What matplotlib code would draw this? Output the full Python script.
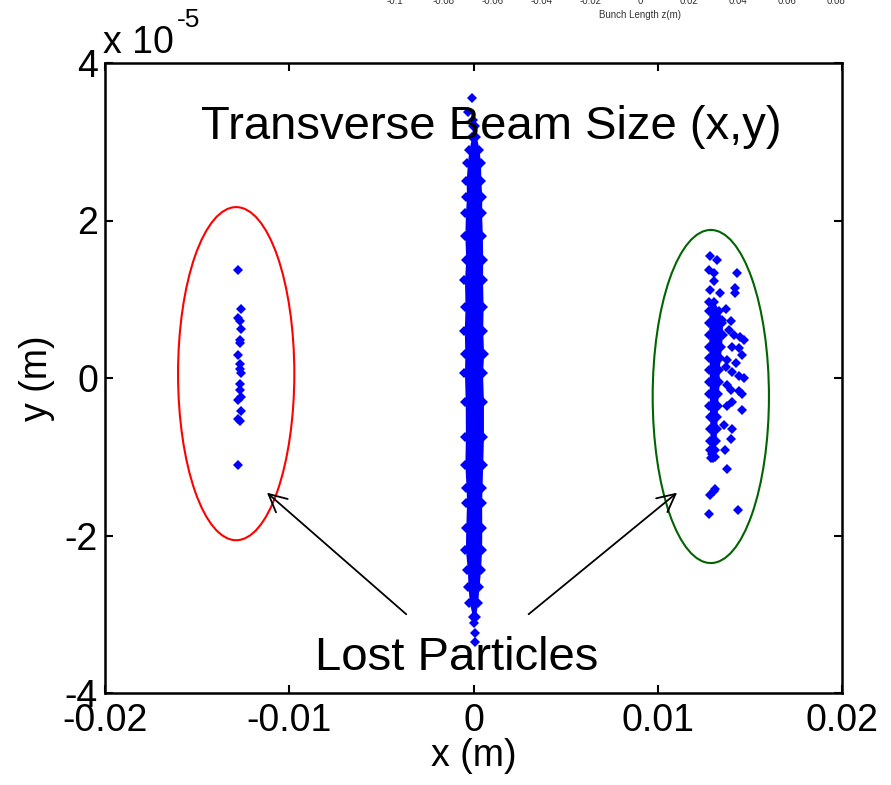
import numpy as np
import matplotlib.pyplot as plt
from matplotlib.patches import Ellipse

plt.rcParams['font.family'] = ['Liberation Sans', 'DejaVu Sans']

# central beam core: profile of the dense column (y in 1e-5 m, x edges in m)
central_y = [3.20, 3.06, 2.90, 2.73, 2.50, 2.30, 2.09, 1.80, 1.50, 1.24, 0.90, 0.60, 0.30, 0.06,
             -0.30, -0.75, -1.10, -1.40, -1.59, -1.90, -2.18, -2.44, -2.65, -2.86, -3.03]
central_left = [-0.00005, -0.00010, -0.00025, -0.00033, -0.00040, -0.00038, -0.00044, -0.00047,
                -0.00042, -0.00049, -0.00046, -0.00050, -0.00047, -0.00049, -0.00045, -0.00044,
                -0.00047, -0.00040, -0.00038, -0.00042, -0.00044, -0.00033, -0.00030, -0.00022, -0.00005]
central_right = [0.00010, 0.00016, 0.00030, 0.00038, 0.00040, 0.00045, 0.00044, 0.00048, 0.00050,
                 0.00049, 0.00052, 0.00050, 0.00055, 0.00049, 0.00054, 0.00054, 0.00050, 0.00046,
                 0.00044, 0.00045, 0.00044, 0.00038, 0.00030, 0.00022, 0.00011]
central_out_x = [-0.00010, -0.00030, -0.00005, 0.00005, 0.00008, 0.00008]
central_out_y = [3.55, 3.38, 3.28, -3.11, -3.24, -3.35]

# lost particles, left side
left_x = [-0.0128, -0.0126, -0.0128, -0.0127, -0.0126, -0.0127, -0.0127, -0.0128, -0.0127, -0.0127,
          -0.0126, -0.0127, -0.0127, -0.0126, -0.0128, -0.0126, -0.0128, -0.0127, -0.0128]
left_y = [1.37, 0.87, 0.76, 0.72, 0.62, 0.48, 0.44, 0.29, 0.18, 0.12,
          0.06, -0.08, -0.15, -0.24, -0.28, -0.42, -0.52, -0.55, -1.10]

# lost particles, right side: dense core profile + scattered points
right_core_y = [0.97, 0.85, 0.70, 0.55, 0.40, 0.25, 0.10, -0.05, -0.20, -0.35, -0.50, -0.65, -0.80, -0.92, -1.02]
right_core_left = [0.01280, 0.01278, 0.01276, 0.01278, 0.01276, 0.01278, 0.01280, 0.01278,
                   0.01280, 0.01280, 0.01282, 0.01282, 0.01284, 0.01284, 0.01290]
right_core_right = [0.01305, 0.01335, 0.01350, 0.01352, 0.01345, 0.01340, 0.01332, 0.01335,
                    0.01328, 0.01325, 0.01322, 0.01320, 0.01316, 0.01310, 0.01302]
right_x = [0.01286, 0.01322, 0.01277, 0.01304, 0.01428, 0.01304, 0.01286, 0.01340, 0.01419, 0.01419,
           0.01368, 0.01350, 0.01395, 0.01386, 0.01413, 0.01449, 0.01468, 0.01404, 0.01440, 0.01455,
           0.01377, 0.01422, 0.01368, 0.01404, 0.01440, 0.01468, 0.01377, 0.01395, 0.01440, 0.01458,
           0.01404, 0.01377, 0.01458, 0.01359, 0.01404, 0.01395, 0.01364, 0.01295, 0.01313, 0.01377,
           0.01286, 0.01304, 0.01313, 0.01277, 0.01437]
right_y = [1.55, 1.50, 1.37, 1.33, 1.33, 1.23, 1.12, 1.08, 1.14, 1.08,
           0.87, 0.74, 0.72, 0.61, 0.55, 0.52, 0.48, 0.40, 0.38, 0.29,
           0.23, 0.19, 0.14, 0.08, 0.02, 0.00, -0.09, -0.15, -0.17, -0.20,
           -0.30, -0.36, -0.40, -0.60, -0.65, -0.77, -0.91, -0.96, -1.00, -1.15,
           -1.49, -1.43, -1.41, -1.73, -1.67]

xticks = [-0.02, -0.01, 0, 0.01, 0.02]
xtick_labels = ['-0.02', '-0.01', '0', '0.01', '0.02']
yticks = [-4, -2, 0, 2, 4]
ytick_labels = ['-4', '-2', '0', '2', '4']
top_ticks = [-0.1, -0.08, -0.06, -0.04, -0.02, 0, 0.02, 0.04, 0.06, 0.08]
top_labels = ['-0.1', '-0.08', '-0.06', '-0.04', '-0.02', '0', '0.02', '0.04', '0.06', '0.08']

sc = 1e-5
blue = '#0000ff'
ms = 5

fig = plt.figure(figsize=(8.91, 7.85), dpi=100)
ax = fig.add_axes([105 / 891, 92 / 785, 737 / 891, 630 / 785])

cy = np.array(central_y) * sc
ax.fill_betweenx(cy, central_left, central_right, color=blue, lw=0)
ax.plot(central_left, cy, 'D', color=blue, ms=ms, mew=0)
ax.plot(central_right, cy, 'D', color=blue, ms=ms, mew=0)
ax.plot(central_out_x, np.array(central_out_y) * sc, 'D', color=blue, ms=ms, mew=0)

ax.plot(left_x, np.array(left_y) * sc, 'D', color=blue, ms=ms, mew=0)

ry = np.array(right_core_y) * sc
ax.fill_betweenx(ry, right_core_left, right_core_right, color=blue, lw=0)
ax.plot(right_core_left, ry, 'D', color=blue, ms=ms, mew=0)
ax.plot(right_core_right, ry, 'D', color=blue, ms=ms, mew=0)
ax.plot(right_x, np.array(right_y) * sc, 'D', color=blue, ms=ms, mew=0)

ax.add_patch(Ellipse((-0.01288, 0.055 * sc), 0.00631, 4.23 * sc, fill=False, ec='#ff0000', lw=1.5))
ax.add_patch(Ellipse((0.01288, -0.235 * sc), 0.00631, 4.23 * sc, fill=False, ec='#006400', lw=1.5))

ax.annotate('', xy=(-0.01121, -1.456 * sc), xytext=(-0.00365, -3.0 * sc),
            arrowprops=dict(arrowstyle='->', color='k', lw=1.3, mutation_scale=32, shrinkA=0, shrinkB=0))
ax.annotate('', xy=(0.01105, -1.456 * sc), xytext=(0.00299, -3.0 * sc),
            arrowprops=dict(arrowstyle='->', color='k', lw=1.3, mutation_scale=32, shrinkA=0, shrinkB=0))

ax.text(0.00098, 3.19 * sc, 'Transverse Beam Size (x,y)', ha='center', va='center', fontsize=34)
ax.text(-0.00093, -3.55 * sc, 'Lost Particles', ha='center', va='center', fontsize=34)

ax.set_xlim(-0.02, 0.02)
ax.set_ylim(-4 * sc, 4 * sc)
ax.set_xticks(xticks)
ax.set_xticklabels(xtick_labels)
ax.set_yticks(np.array(yticks) * sc)
ax.set_yticklabels(ytick_labels)
ax.tick_params(direction='in', length=6, width=1.5, labelsize=27, top=True, right=True)
ax.tick_params(axis='x', pad=7)
ax.tick_params(axis='y', pad=5)
for s in ax.spines.values():
    s.set_linewidth(1.8)

ax.set_xlabel('x (m)', fontsize=27)
ax.set_ylabel('y (m)', fontsize=27)
ax.xaxis.set_label_coords(0.5, -0.072)
ax.yaxis.set_label_coords(-0.068, 0.5)

fig.text(103 / 891, 1 - 53 / 785, 'x 10', fontsize=27, va='baseline', ha='left')
fig.text(177 / 891, 1 - 27 / 785, '-5', fontsize=19, va='baseline', ha='left')

# remnants of the plot above
for v, lab in zip(top_ticks, top_labels):
    fig.text((640 + v * 2450) / 891, 1 - 1 / 785, lab, fontsize=7, color='#333333', ha='center', va='center')
fig.text(640 / 891, 1 - 15 / 785, 'Bunch Length z(m)', fontsize=7, color='#333333', ha='center', va='center')

fig.savefig('out.png', dpi=100)
